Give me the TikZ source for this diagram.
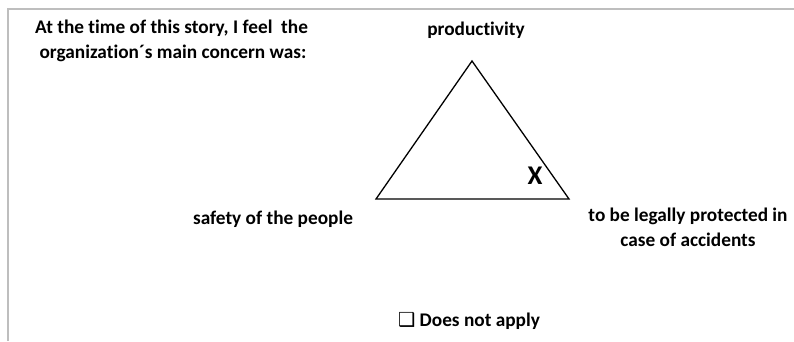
\documentclass[tikz,border=0pt]{standalone}
\usepackage{fontspec}
\setmainfont{Carlito}[Ligatures=NoCommon]
\newfontfamily\symfont{DejaVu Sans}
\usetikzlibrary{positioning}
\definecolor{framegray}{HTML}{BEBEBE}
\tikzset{
  lbl/.style={font=\fontsize{19.3}{25}\selectfont\bfseries, text=black, inner sep=0pt},
  tri/.style={draw=black, line width=1.3pt, line join=miter},
  frame/.style={draw=framegray, line width=2pt},
}
\begin{document}
\begin{tikzpicture}[x=1pt,y=1pt]
  \useasboundingbox (0,0) rectangle (794,341);
  % open gray frame
  \coordinate (fb) at (8,0);
  \coordinate (fc) at (8,332);
  \coordinate (fr) at (794,332);
  \draw[frame] (fb) -- (fc) -- (fr);
  % the question
  \node[lbl, align=left, anchor=west] (Q) at (35,300.5)
    {At the time of this story, I feel\ \ the\\
     \ organization´s main concern was:};
  % the triangle
  \coordinate (T) at (472,280);
  \coordinate (L) at (376,142);
  \coordinate (R) at (569,142);
  \draw[tri] (T) -- (L) -- (R) -- cycle;
  \node[font=\fontsize{27}{27}\selectfont\bfseries, inner sep=0pt] (X) at (535,165) {X};
  % corner labels
  \node[lbl] (P) at (476,311) {productivity};
  \node[lbl] (S) at (273,122) {safety of the people};
  \node[lbl, align=center] (A) at (688,114) {to be legally protected in\\case of accidents};
  % opt out
  \node[lbl] (N) at (469,20) {{\symfont\bfseries ❑}\ Does not apply};
\end{tikzpicture}
\end{document}
